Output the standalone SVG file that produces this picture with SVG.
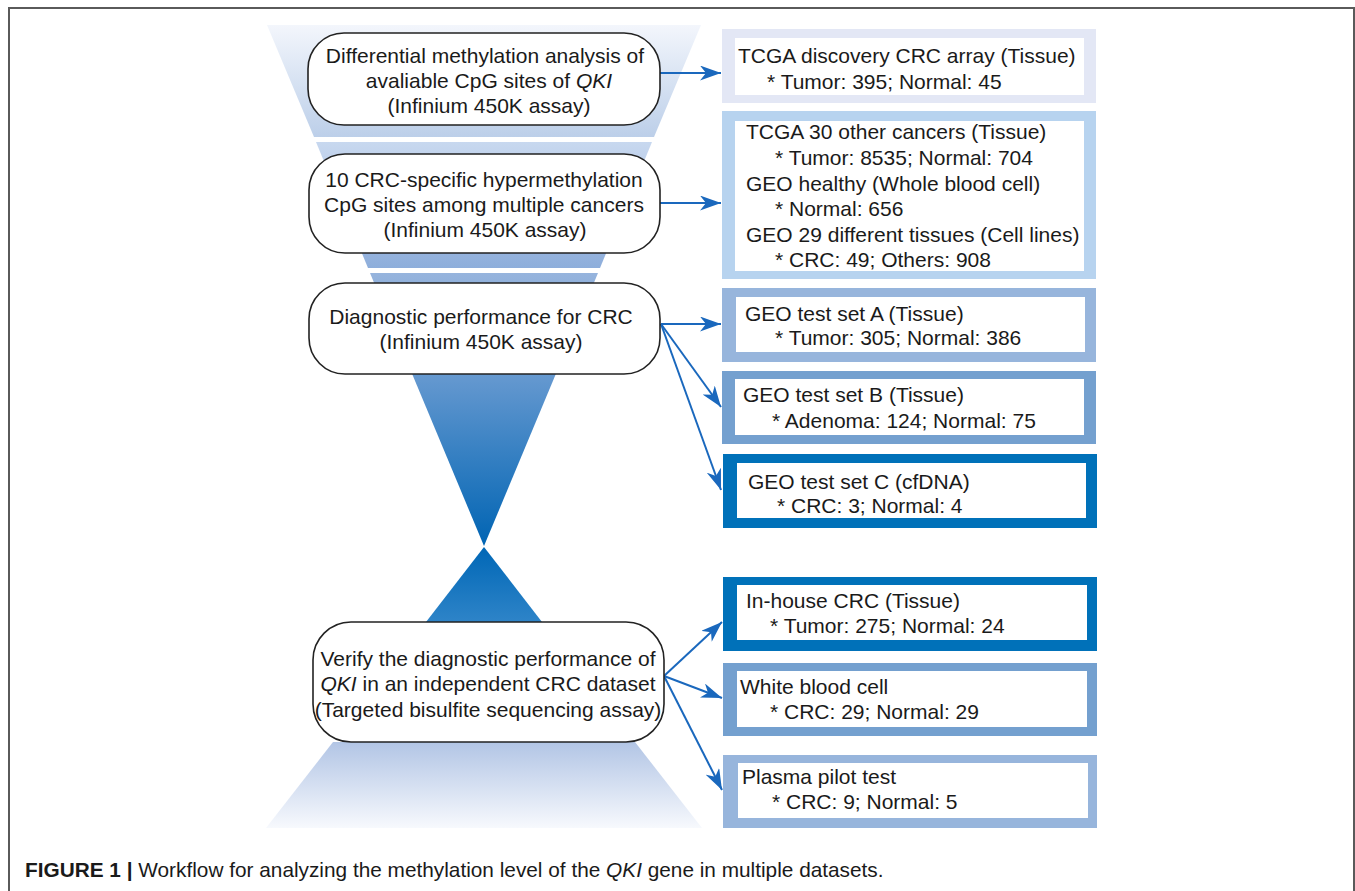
<svg xmlns="http://www.w3.org/2000/svg" width="1355" height="891" viewBox="0 0 1355 891">
<style>
text{font-family:"Liberation Sans",Arial,sans-serif;font-size:21px;fill:#1a1a1a}
.c{text-anchor:middle}
.it{font-style:italic}
.node{fill:#fff;stroke:#222;stroke-width:1.6}
.inner{fill:#fff}
.conn{stroke:#1a68bd;stroke-width:2;fill:none;marker-end:url(#ah)}
</style>
<defs>
<marker id="ah" markerUnits="userSpaceOnUse" markerWidth="21" markerHeight="15" viewBox="0 0 21 15" refX="21" refY="7.5" orient="auto">
<path d="M0,0 L21,7.5 L0,15 L6,7.5 z" fill="#1a68bd"/>
</marker>
<linearGradient id="g1" gradientUnits="userSpaceOnUse" x1="0" y1="25" x2="0" y2="137">
<stop offset="0" stop-color="#f3f6fc"/><stop offset="1" stop-color="#bccfe9"/>
</linearGradient>
<linearGradient id="g2" gradientUnits="userSpaceOnUse" x1="0" y1="142" x2="0" y2="268">
<stop offset="0" stop-color="#c8d8ef"/><stop offset="1" stop-color="#8eaedb"/>
</linearGradient>
<linearGradient id="g3" gradientUnits="userSpaceOnUse" x1="0" y1="273" x2="0" y2="546">
<stop offset="0" stop-color="#96b4dd"/><stop offset="0.37" stop-color="#6699d0"/><stop offset="1" stop-color="#0064b3"/>
</linearGradient>
<linearGradient id="g4" gradientUnits="userSpaceOnUse" x1="0" y1="547" x2="0" y2="622">
<stop offset="0" stop-color="#0067b6"/><stop offset="1" stop-color="#2e84c8"/>
</linearGradient>
<linearGradient id="g5" gradientUnits="userSpaceOnUse" x1="0" y1="742" x2="0" y2="828">
<stop offset="0" stop-color="#b2c5e5"/><stop offset="1" stop-color="#f7f9fd"/>
</linearGradient>
</defs>
<rect width="1355" height="891" fill="#fff"/>
<path d="M9,891 V8 H1354 V891" fill="none" stroke="#5a5a5a" stroke-width="2"/>

<g id="funnel">
<polygon points="267,25 701,25 654,137 314,137" fill="url(#g1)"/>
<polygon points="316,142 652,142 600,268 368,268" fill="url(#g2)"/>
<polygon points="370,273 598,273 484,546" fill="url(#g3)"/>
<polygon points="484,547 542,622 426,622" fill="url(#g4)"/>
<polygon points="333,742 635,742 702,828 266,828" fill="url(#g5)"/>
</g>

<g id="connectors">
<path class="conn" d="M660,73 L721,73"/>
<path class="conn" d="M660,203 L721,203"/>
<path class="conn" d="M661,324 L721,324"/>
<path class="conn" d="M661,324 L721,407"/>
<path class="conn" d="M661,324 L721,490"/>
<path class="conn" d="M664,676 L722,622"/>
<path class="conn" d="M664,676 L722,698"/>
<path class="conn" d="M664,676 L722,790"/>
</g>

<g id="step1">
<rect class="node" x="308" y="33" width="352" height="92" rx="36"/>
<text class="c" x="485" y="63">Differential methylation analysis of</text>
<text class="c" x="489" y="88">avaliable CpG sites of <tspan class="it">QKI</tspan></text>
<text class="c" x="489" y="113">(Infinium 450K assay)</text>
</g>
<g id="step2">
<rect class="node" x="309" y="154" width="351" height="99" rx="36"/>
<text class="c" x="484" y="187">10 CRC-specific hypermethylation</text>
<text class="c" x="484" y="212">CpG sites among multiple cancers</text>
<text class="c" x="485" y="237">(Infinium 450K assay)</text>
</g>
<g id="step3">
<rect class="node" x="309" y="283" width="351" height="91" rx="36"/>
<text class="c" x="481" y="324">Diagnostic performance for CRC</text>
<text class="c" x="481" y="349">(Infinium 450K assay)</text>
</g>
<g id="step4">
<rect class="node" x="313" y="622" width="351" height="120" rx="38"/>
<text class="c" x="488" y="666">Verify the diagnostic performance of</text>
<text class="c" x="488" y="691"><tspan class="it">QKI</tspan> in an independent CRC dataset</text>
<text class="c" x="488" y="717">(Targeted bisulfite sequencing assay)</text>
</g>

<g id="tcga-discovery">
<rect x="722" y="29" width="374" height="74" fill="#e3e7f5"/>
<rect class="inner" x="735" y="38" width="349" height="57"/>
<text x="738" y="63">TCGA discovery CRC array (Tissue)</text>
<text x="767" y="89">* Tumor: 395; Normal: 45</text>
</g>
<g id="tcga-other">
<rect x="722" y="111" width="374" height="168" fill="#b7d3ef"/>
<rect class="inner" x="735" y="121" width="349" height="150"/>
<text x="746" y="139">TCGA 30 other cancers (Tissue)</text>
<text x="775" y="165">* Tumor: 8535; Normal: 704</text>
<text x="746" y="191">GEO healthy (Whole blood cell)</text>
<text x="775" y="216">* Normal: 656</text>
<text x="746" y="242">GEO 29 different tissues (Cell lines)</text>
<text x="775" y="267">* CRC: 49; Others: 908</text>
</g>
<g id="geo-a">
<rect x="722" y="288" width="374" height="74" fill="#97b5dc"/>
<rect class="inner" x="736" y="297" width="349" height="55"/>
<text x="745" y="321">GEO test set A (Tissue)</text>
<text x="775" y="345">* Tumor: 305; Normal: 386</text>
</g>
<g id="geo-b">
<rect x="722" y="371" width="374" height="73" fill="#74a0cf"/>
<rect class="inner" x="735" y="379" width="349" height="56"/>
<text x="743" y="402">GEO test set B (Tissue)</text>
<text x="772" y="428">* Adenoma: 124; Normal: 75</text>
</g>
<g id="geo-c">
<rect x="723" y="454" width="374" height="74" fill="#0071b9"/>
<rect class="inner" x="737" y="463" width="349" height="55"/>
<text x="748" y="489">GEO test set C (cfDNA)</text>
<text x="777" y="513">* CRC: 3; Normal: 4</text>
</g>
<g id="inhouse">
<rect x="723" y="577" width="374" height="74" fill="#0071b9"/>
<rect class="inner" x="737" y="585" width="350" height="55"/>
<text x="746" y="608">In-house CRC (Tissue)</text>
<text x="770" y="633">* Tumor: 275; Normal: 24</text>
</g>
<g id="wbc">
<rect x="723" y="663" width="374" height="73" fill="#74a0cf"/>
<rect class="inner" x="737" y="671" width="350" height="56"/>
<text x="740" y="694">White blood cell</text>
<text x="770" y="719">* CRC: 29; Normal: 29</text>
</g>
<g id="plasma">
<rect x="723" y="755" width="374" height="73" fill="#97b5dc"/>
<rect class="inner" x="738" y="763" width="350" height="55"/>
<text x="742" y="784">Plasma pilot test</text>
<text x="772" y="809">* CRC: 9; Normal: 5</text>
</g>

<text x="25" y="877" style="font-size:20.8px"><tspan font-weight="bold">FIGURE 1 |</tspan> Workflow for analyzing the methylation level of the <tspan class="it">QKI</tspan> gene in multiple datasets.</text>
</svg>
